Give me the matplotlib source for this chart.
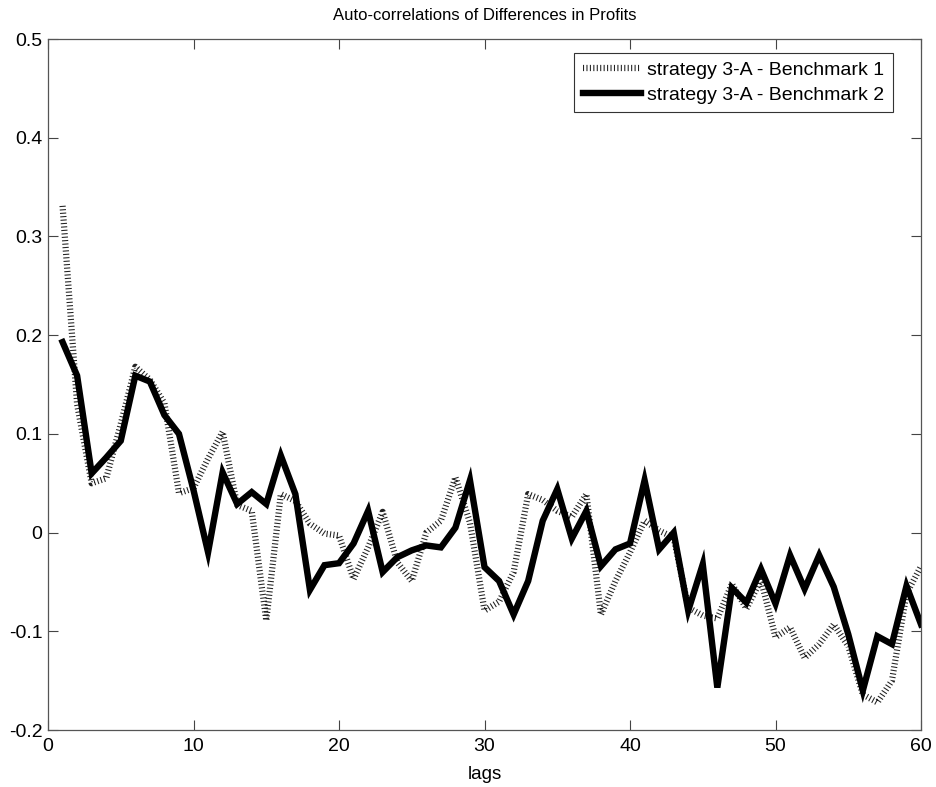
import numpy as np
import matplotlib
matplotlib.use("Agg")
import matplotlib.pyplot as plt

plt.rcParams['font.family'] = ['Liberation Sans', 'DejaVu Sans']

lags = np.arange(1, 61)

# strategy 3-A - Benchmark 1 (dotted)
bench1 = [0.331, 0.13, 0.050, 0.055, 0.110, 0.168, 0.155, 0.131, 0.040, 0.045,
          0.075, 0.102, 0.028, 0.022, -0.089, 0.039, 0.032, 0.009, -0.001, -0.003,
          -0.047, -0.015, 0.021, -0.030, -0.049, 0.000, 0.012, 0.056, 0.010, -0.079,
          -0.070, -0.040, 0.039, 0.033, 0.022, 0.016, 0.039, -0.083, -0.049, -0.020,
          0.012, 0.002, -0.005, -0.076, -0.084, -0.087, -0.052, -0.077, -0.048, -0.106,
          -0.096, -0.127, -0.113, -0.093, -0.115, -0.164, -0.172, -0.150, -0.062, -0.034]

# strategy 3-A - Benchmark 2 (solid)
bench2 = [0.193, 0.159, 0.060, 0.076, 0.093, 0.159, 0.153, 0.119, 0.100, 0.043,
          -0.020, 0.061, 0.029, 0.041, 0.029, 0.078, 0.039, -0.058, -0.033, -0.031,
          -0.011, 0.022, -0.040, -0.025, -0.018, -0.013, -0.015, 0.005, 0.053, -0.035,
          -0.049, -0.083, -0.049, 0.012, 0.044, -0.006, 0.022, -0.034, -0.017, -0.011,
          0.053, -0.017, 0.000, -0.079, -0.032, -0.157, -0.056, -0.071, -0.037, -0.072,
          -0.023, -0.057, -0.023, -0.055, -0.103, -0.160, -0.105, -0.113, -0.054, -0.093]

xticks = [0, 10, 20, 30, 40, 50, 60]
yticks = [-0.2, -0.1, 0, 0.1, 0.2, 0.3, 0.4, 0.5]
ytick_labels = ['-0.2', '-0.1', '0', '0.1', '0.2', '0.3', '0.4', '0.5']

fig = plt.figure(figsize=(9.36, 7.87), dpi=100)
ax = fig.add_axes([0.0513, 0.0724, 0.9327, 0.878])

ax.plot(lags, bench1, color='#222222', lw=4.5, dashes=(0.17, 0.38),
        dash_capstyle='butt', label='strategy 3-A - Benchmark 1')
ax.plot(lags, bench2, color='black', lw=4.6, solid_joinstyle='miter',
        label='strategy 3-A - Benchmark 2')

ax.set_xlim(0, 60)
ax.set_ylim(-0.2, 0.5)
ax.set_xticks(xticks)
ax.set_yticks(yticks)
ax.set_yticklabels(ytick_labels)
ax.tick_params(direction='in', length=7, width=0.8, top=True, right=True,
               labelsize=14, color='#444444', pad=4)
ax.tick_params(axis='x', pad=6)
for s in ax.spines.values():
    s.set_color('#555555')
    s.set_linewidth(0.9)

ax.set_title('Auto-correlations of Differences in Profits', fontsize=12, pad=14)
ax.set_xlabel('lags', fontsize=13.5, labelpad=8)

leg = ax.legend(loc='upper right', bbox_to_anchor=(0.968, 0.980), fontsize=14,
                handlelength=3.0, handletextpad=0.3, borderpad=0.45,
                labelspacing=0.35, fancybox=False, framealpha=1, borderaxespad=0)
leg.get_frame().set_edgecolor('#333333')
leg.get_frame().set_linewidth(0.8)

fig.savefig('out.png', dpi=100)
